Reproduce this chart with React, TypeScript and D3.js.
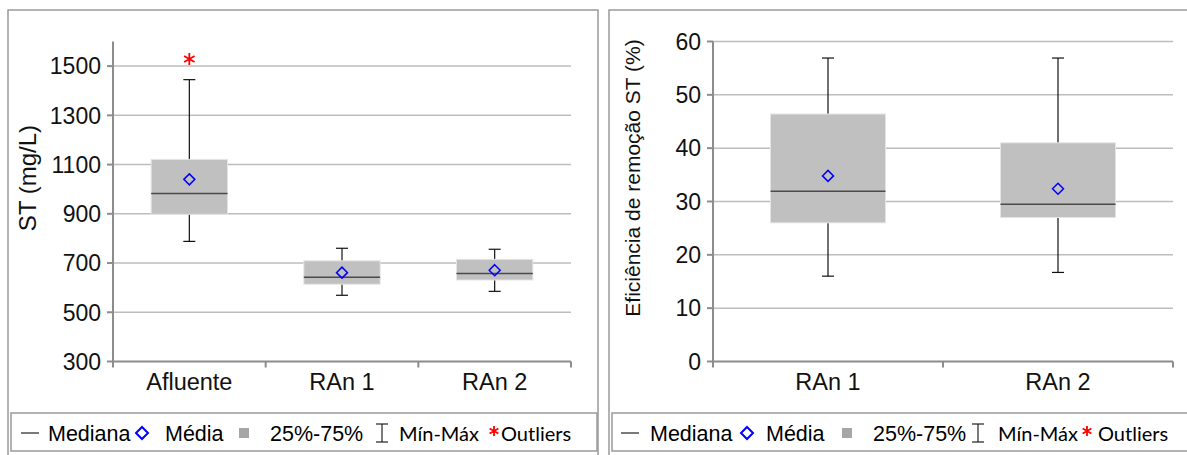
import React from 'react';
import * as d3 from 'd3';

// left chart: ST (mg/L)
const catsST = ['Afluente', 'RAn 1', 'RAn 2'];
const minST = [788, 569, 585];
const q1ST = [898, 614, 631];
const medST = [983, 642, 658];
const meanST = [1040, 661, 671];
const q3ST = [1121, 709, 715];
const maxST = [1445, 760, 756];
const outST = [{ cat: 'Afluente', value: 1529 }];
const ticksST = [300, 500, 700, 900, 1100, 1300, 1500];

// right chart: removal efficiency (%)
const catsEf = ['RAn 1', 'RAn 2'];
const minEf = [16.0, 16.7];
const q1Ef = [26.0, 27.0];
const medEf = [31.9, 29.5];
const meanEf = [34.8, 32.4];
const q3Ef = [46.4, 41.0];
const maxEf = [56.9, 56.9];
const ticksEf = [0, 10, 20, 30, 40, 50, 60];

const legendLabels = ['Mediana', 'Média', '25%-75%', 'Mín-Máx', 'Outliers'];

const FONT = '"Liberation Sans", Arial, sans-serif';
const NARROW = 'Lato, "Liberation Sans", sans-serif';

const star = (cx, cy, r) => {
  const a = r * 0.87;
  return `M${cx},${cy - r}L${cx},${cy + r}M${cx - a},${cy - r / 2}L${cx + a},${cy + r / 2}M${cx - a},${cy + r / 2}L${cx + a},${cy - r / 2}`;
};

const diamond = (cx, cy, r) => `M${cx},${cy - r}L${cx + r},${cy}L${cx},${cy + r}L${cx - r},${cy}Z`;

function Legend({ x0, offs }) {
  const y = 433;
  const ty = 441;
  return (
    <g>
      <rect x={x0 + 3} y={413} width={586} height={38} fill="white" stroke="#9a9a9a" strokeWidth={1.5} />
      <line x1={x0 + offs[0]} x2={x0 + offs[0] + 18} y1={y} y2={y} stroke="#222" strokeWidth={1.2} />
      <text x={x0 + offs[1]} y={ty} fontSize={21.5} fontFamily={FONT}>{legendLabels[0]}</text>
      <path d={diamond(x0 + offs[2], y, 6)} fill="none" stroke="#0000ff" strokeWidth={2} />
      <text x={x0 + offs[3]} y={ty} fontSize={21.5} fontFamily={FONT}>{legendLabels[1]}</text>
      <rect x={x0 + offs[4] - 5} y={y - 5} width={10} height={10} fill="#a6a6a6" />
      <text x={x0 + offs[5]} y={ty} fontSize={21.5} fontFamily={FONT}>{legendLabels[2]}</text>
      <g stroke="#222" strokeWidth={1.2}>
        <line x1={x0 + offs[6]} x2={x0 + offs[6]} y1={y - 9} y2={y + 9} />
        <line x1={x0 + offs[6] - 6} x2={x0 + offs[6] + 6} y1={y - 9} y2={y - 9} />
        <line x1={x0 + offs[6] - 6} x2={x0 + offs[6] + 6} y1={y + 9} y2={y + 9} />
      </g>
      <text x={x0 + offs[7]} y={ty} fontSize={20} fontFamily={NARROW}>{legendLabels[3]}</text>
      <path d={star(x0 + offs[8], y - 2, 5)} stroke="#ff0000" strokeWidth={1.8} />
      <text x={x0 + offs[9]} y={ty} fontSize={20} fontFamily={NARROW}>{legendLabels[4]}</text>
    </g>
  );
}

function BoxChart({ x0, left, right, domain, ticks, cats, mins, q1s, meds, means, q3s, maxs, outs, title, titleX, titleSize, offs }) {
  const top = 41.5;
  const bottom = 361.5;
  const x = d3.scaleBand().domain(cats).range([left, right]).padding(0);
  const y = d3.scaleLinear().domain(domain).range([bottom, top]);
  const bw = x.bandwidth() * 0.5;
  const bounds = [left, ...cats.map((c) => x(c) + x.bandwidth())];
  return (
    <g>
      <rect x={x0} y={10} width={590} height={460} fill="white" stroke="#9a9a9a" strokeWidth={1.5} />
      {/* grid */}
      {ticks.filter((t) => t !== domain[0]).map((t) => (
        <line key={t} x1={left} x2={right} y1={y(t)} y2={y(t)} stroke="#bdbdbd" strokeWidth={1.5} />
      ))}
      {/* y axis */}
      <line x1={left} x2={left} y1={top} y2={bottom} stroke="#8c8c8c" strokeWidth={2} />
      {ticks.map((t) => (
        <g key={t}>
          <line x1={left - 6} x2={left} y1={y(t)} y2={y(t)} stroke="#8c8c8c" strokeWidth={2} />
          <text x={left - 12} y={y(t)} dy="0.36em" textAnchor="end" fontSize={23} fontFamily={FONT} fill="#111">{t}</text>
        </g>
      ))}
      {/* x axis */}
      <line x1={left} x2={right} y1={bottom} y2={bottom} stroke="#8c8c8c" strokeWidth={2} />
      {bounds.map((b, i) => (
        <line key={i} x1={b} x2={b} y1={bottom} y2={bottom + 6} stroke="#8c8c8c" strokeWidth={2} />
      ))}
      {cats.map((c) => (
        <text key={c} x={x(c) + x.bandwidth() / 2} y={390} textAnchor="middle" fontSize={23.5} fontFamily={FONT} fill="#111">{c}</text>
      ))}
      <text transform={`translate(${titleX},178) rotate(-90)`} textAnchor="middle" fontSize={titleSize} fontFamily={FONT} fill="#111" dy="0.35em">{title}</text>
      {/* boxes */}
      {cats.map((c, i) => {
        const cx = x(c) + x.bandwidth() / 2;
        return (
          <g key={c}>
            <line x1={cx} x2={cx} y1={y(maxs[i])} y2={y(mins[i])} stroke="#111" strokeWidth={1.2} />
            <line x1={cx - 6} x2={cx + 6} y1={y(maxs[i])} y2={y(maxs[i])} stroke="#111" strokeWidth={1.2} />
            <line x1={cx - 6} x2={cx + 6} y1={y(mins[i])} y2={y(mins[i])} stroke="#111" strokeWidth={1.2} />
            <rect x={cx - bw / 2} y={y(q3s[i])} width={bw} height={y(q1s[i]) - y(q3s[i])} fill="#c0c0c0" stroke="#e4e4e4" strokeWidth={1} />
            <line x1={cx - bw / 2} x2={cx + bw / 2} y1={y(meds[i])} y2={y(meds[i])} stroke="#4a4a4a" strokeWidth={1.5} />
            <path d={diamond(cx, y(means[i]), 5.5)} fill="none" stroke="#0000ff" strokeWidth={1.5} />
          </g>
        );
      })}
      {outs.map((o, i) => (
        <path key={i} d={star(x(o.cat) + x.bandwidth() / 2, y(o.value), 6)} stroke="#ff0000" strokeWidth={1.8} />
      ))}
      <Legend x0={x0} offs={offs} />
    </g>
  );
}

export default function App() {
  return (
    <div style={{ position: 'fixed', left: 0, top: 0 }}>
      <svg width={1187} height={455} style={{ display: 'block', background: 'white' }}>
        <BoxChart
          x0={8} left={113} right={571} domain={[300, 1600]} ticks={ticksST}
          cats={catsST} mins={minST} q1s={q1ST} meds={medST} means={meanST} q3s={q3ST} maxs={maxST} outs={outST}
          title="ST (mg/L)" titleX={28} titleSize={24}
          offs={[13, 40, 134, 157, 236, 262, 374, 391, 486, 493]}
        />
        <BoxChart
          x0={609} left={713} right={1173} domain={[0, 60]} ticks={ticksEf}
          cats={catsEf} mins={minEf} q1s={q1Ef} meds={medEf} means={meanEf} q3s={q3Ef} maxs={maxEf} outs={[]}
          title="Eficiência de remoção ST (%)" titleX={633} titleSize={21}
          offs={[12, 41, 138, 157, 238, 264, 369, 389, 478, 489]}
        />
      </svg>
    </div>
  );
}
